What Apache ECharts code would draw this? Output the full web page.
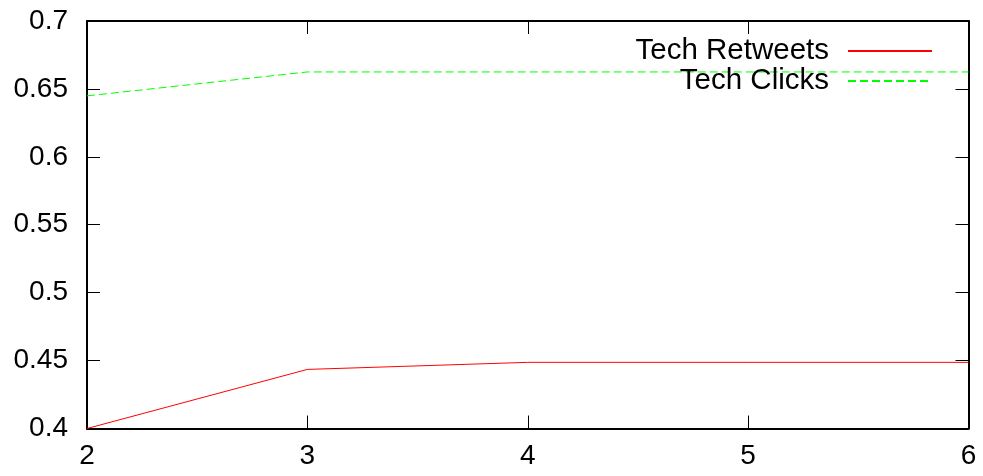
<!DOCTYPE html>
<html>
<head>
<meta charset="utf-8">
<script src="https://cdn.jsdelivr.net/npm/echarts@6/dist/echarts.min.js"></script>
<style>html,body{margin:0;padding:0;background:#fff}#c{width:983px;height:476px}</style>
</head>
<body>
<div id="c"></div>
<script>
const xValues = [2, 3, 4, 5, 6];
const retweets = [0.400, 0.4435, 0.4487, 0.4487, 0.4487];
const clicks = [0.6449, 0.6625, 0.6625, 0.6625, 0.6625];
const seriesNames = ['Tech Retweets', 'Tech Clicks'];

const font = 'Liberation Sans, Arial, Helvetica, sans-serif';
const chart = echarts.init(document.getElementById('c'), null, {renderer: 'canvas'});
const tick = {show: true, inside: true, length: 13, lineStyle: {color: '#000', width: 1}};
const axLine = {show: true, lineStyle: {color: '#000', width: 2}};
chart.setOption({
  animation: false,
  backgroundColor: '#fff',
  grid: {left: 87, right: 14.5, top: 21, bottom: 47.5, show: false},
  legend: {
    orient: 'vertical', right: 50, top: 36, padding: 0, itemGap: 0,
    align: 'right', itemWidth: 84, itemHeight: 14,
    data: seriesNames,
    itemStyle: {opacity: 0},
    textStyle: {fontFamily: font, fontSize: 29.5, color: '#000', lineHeight: 29, padding: [0, 14, 0, 0]}
  },
  xAxis: [{
    type: 'value', min: 2, max: 6, interval: 1, position: 'bottom',
    axisLine: axLine, axisTick: tick, splitLine: {show: false},
    axisLabel: {fontFamily: font, fontSize: 28, color: '#000', margin: 14}
  }, {
    type: 'value', min: 2, max: 6, interval: 1, position: 'top',
    axisLine: axLine, axisTick: tick, splitLine: {show: false}, axisLabel: {show: false}
  }],
  yAxis: [{
    type: 'value', min: 0.4, max: 0.7, interval: 0.05, position: 'left',
    axisLine: axLine, axisTick: tick, splitLine: {show: false},
    axisLabel: {fontFamily: font, fontSize: 28, color: '#000', margin: 19,
      formatter: v => String(+v.toFixed(2))}
  }, {
    type: 'value', min: 0.4, max: 0.7, interval: 0.05, position: 'right',
    axisLine: axLine, axisTick: tick, splitLine: {show: false}, axisLabel: {show: false}
  }],
  series: [{
    name: seriesNames[0], type: 'line', symbol: 'none', xAxisIndex: 0, yAxisIndex: 0,
    data: xValues.map((x, i) => [x, retweets[i]]),
    lineStyle: {color: '#ff0000', width: 1}, itemStyle: {color: '#ff0000'}
  }, {
    name: seriesNames[1], type: 'line', symbol: 'none', xAxisIndex: 0, yAxisIndex: 0,
    data: xValues.map((x, i) => [x, clicks[i]]),
    lineStyle: {color: '#00ff00', width: 1, type: [8, 4]}, itemStyle: {color: '#00ff00'}
  }]
});
</script>
</body>
</html>
